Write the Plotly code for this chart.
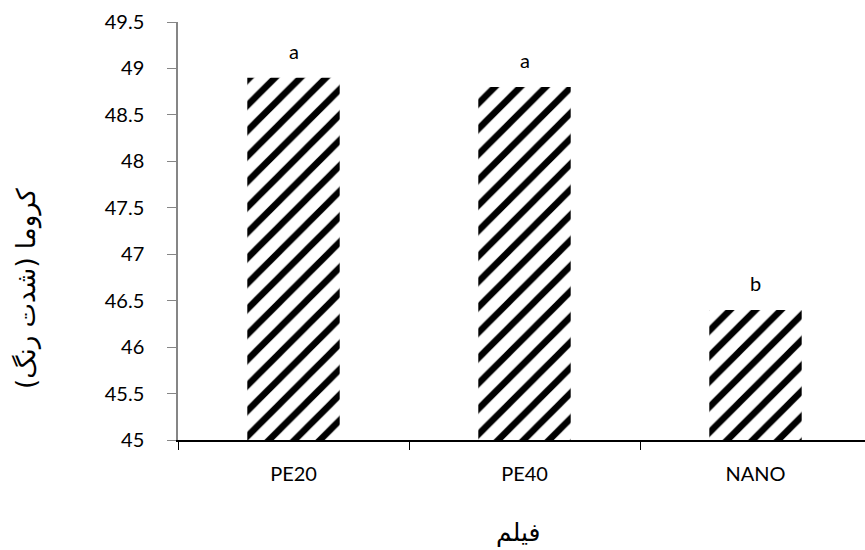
import plotly.graph_objects as go

# Chroma by packaging film
films = ["PE20", "PE40", "NANO"]
chroma = [48.9, 48.8, 46.4]
groups = ["a", "a", "b"]
y_ticks = [45, 45.5, 46, 46.5, 47, 47.5, 48, 48.5, 49, 49.5]
y_tick_text = ["45", "45.5", "46", "46.5", "47", "47.5", "48", "48.5", "49", "49.5"]
x_title = "فیلم"
y_title = "کروما (شدت رنگ)"

tick_font = dict(family="Lato, Liberation Sans, sans-serif", size=20, color="#000000")

fig = go.Figure()
fig.add_trace(go.Bar(
    x=films,
    y=chroma,
    base=0,
    width=0.40,
    marker=dict(
        color="#ffffff",
        line=dict(width=0),
        pattern=dict(shape="/", fgcolor="#000000", bgcolor="#ffffff",
                     size=18, solidity=0.36, fillmode="replace"),
    ),
    hoverinfo="skip",
))

# significance letters above the bars
for f, v, g in zip(films, chroma, groups):
    fig.add_annotation(x=f, y=v, text=g, showarrow=False, yshift=13,
                       yanchor="bottom", font=tick_font)

# axis titles
fig.add_annotation(x=-152 / 687, y=152 / 418, xref="paper", yref="paper",
                   text=y_title, textangle=-90, showarrow=False,
                   xanchor="center", yanchor="middle",
                   font=dict(family="DejaVu Sans, sans-serif", size=26, color="#000000"))
fig.add_annotation(x=340 / 687, y=-93 / 418, xref="paper", yref="paper",
                   text=x_title, showarrow=False,
                   xanchor="center", yanchor="middle",
                   font=dict(family="DejaVu Sans, sans-serif", size=25, color="#000000"))

fig.update_layout(
    width=865, height=550,
    margin=dict(l=178, r=0, t=22, b=110),
    paper_bgcolor="#ffffff", plot_bgcolor="#ffffff",
    showlegend=False,
    xaxis=dict(
        type="category",
        range=[-0.5, -0.5 + 687 / 231],
        tickson="boundaries",
        ticks="outside", ticklen=8, tickcolor="#000000", tickwidth=1,
        showline=True, linecolor="#000000", linewidth=1.5,
        showgrid=False, zeroline=False,
        tickfont=tick_font,
        ticklabelstandoff=15,
    ),
    yaxis=dict(
        range=[45, 49.5],
        tickvals=y_ticks, ticktext=y_tick_text,
        ticks="outside", ticklen=9, tickcolor="#868686", tickwidth=1,
        showline=True, linecolor="#868686", linewidth=1.5,
        showgrid=False, zeroline=False,
        tickfont=tick_font,
        ticklabelstandoff=19,
    ),
)

fig.write_html("out.html")
